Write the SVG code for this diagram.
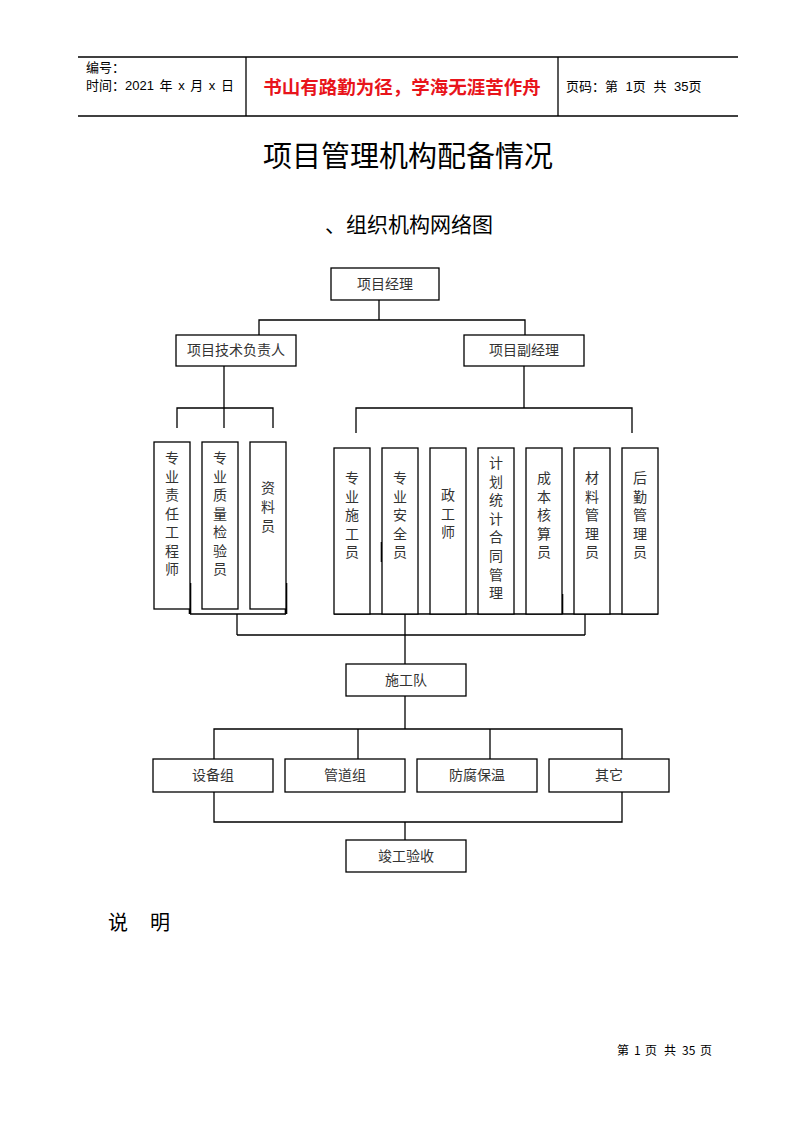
<svg xmlns="http://www.w3.org/2000/svg" width="793" height="1122" viewBox="0 0 793 1122">
<style>
.bx{fill:#fff;stroke:#000;stroke-width:1.3}
.ln{fill:none;stroke:#000;stroke-width:1.3}
.tk{fill:none;stroke:#000;stroke-width:2.6}
.lb{font-family:"Noto Sans CJK SC","Liberation Sans",sans-serif;font-size:14px;fill:#333;text-anchor:middle}
.vt{font-family:"Noto Sans CJK SC","Liberation Sans",sans-serif;font-size:14px;fill:#333;text-anchor:middle}
.hd{font-family:"Liberation Sans","Noto Sans CJK SC",sans-serif;font-size:13px;fill:#000}
.ft{font-family:"Noto Sans CJK SC",sans-serif;font-size:12px;fill:#000}
</style>
<rect width="793" height="1122" fill="#fff"/>
<g id="header">
<line class="ln" x1="78" y1="57" x2="738" y2="57"/>
<line class="ln" x1="78" y1="116" x2="738" y2="116"/>
<line class="ln" x1="246" y1="57" x2="246" y2="116"/>
<line class="ln" x1="558" y1="57" x2="558" y2="116"/>
<text class="hd" x="86" y="72">编号：</text>
<text class="hd" x="86" y="90" style="word-spacing:2px">时间：2021 年 x 月 x 日</text>
<text x="402" y="94" text-anchor="middle" style="font-family:'Noto Sans CJK SC',sans-serif;font-size:18.5px;font-weight:bold;fill:#e8141b">书山有路勤为径，学海无涯苦作舟</text>
<text class="hd" x="566" y="91" style="word-spacing:4px">页码：第 1页 共 35页</text>
</g>
<text x="408" y="167" text-anchor="middle" style="font-family:'Noto Sans CJK SC',sans-serif;font-size:29px;fill:#000">项目管理机构配备情况</text>
<text x="409" y="232" text-anchor="middle" style="font-family:'Noto Sans CJK SC',sans-serif;font-size:21px;fill:#000">、组织机构网络图</text>
<g id="connectors">
<polyline class="ln" points="379,300 379,320"/>
<polyline class="ln" points="259,335 259,320 525,320 525,335"/>
<polyline class="ln" points="224,366 224,408"/>
<polyline class="ln" points="177,428 177,408 273,408 273,428"/>
<line class="ln" x1="224" y1="408" x2="224" y2="428"/>
<polyline class="ln" points="524,366 524,408"/>
<polyline class="ln" points="356,433 356,408 632,408 632,433"/>
<line class="ln" x1="190" y1="614" x2="286" y2="614"/>
<line class="tk" x1="190" y1="583" x2="190" y2="614"/>
<line class="tk" x1="286" y1="583" x2="286" y2="614"/>
<line class="ln" x1="237" y1="614" x2="237" y2="635"/>
<line class="ln" x1="237" y1="635" x2="585" y2="635"/>
<line class="ln" x1="585" y1="614" x2="585" y2="635"/>
<line class="ln" x1="334" y1="614" x2="658" y2="614"/>
<line class="ln" x1="357" y1="594" x2="357" y2="614"/>
<line class="ln" x1="453" y1="594" x2="453" y2="614"/>
<line class="ln" x1="645" y1="594" x2="645" y2="614"/>
<line class="tk" x1="562" y1="594" x2="562" y2="614"/>
<line class="tk" x1="382" y1="542" x2="382" y2="562"/>
<line class="ln" x1="405" y1="614" x2="405" y2="664"/>
<line class="ln" x1="405" y1="696" x2="405" y2="729"/>
<polyline class="ln" points="214,759 214,729 622,729 622,759"/>
<line class="ln" x1="358" y1="729" x2="358" y2="759"/>
<line class="ln" x1="490" y1="729" x2="490" y2="759"/>
<polyline class="ln" points="214,792 214,822 622,822 622,792"/>
<line class="ln" x1="405" y1="822" x2="405" y2="840"/>
</g>
<g id="n-pm"><rect class="bx" x="331" y="268" width="108" height="32"/><text class="lb" x="385" y="289">项目经理</text></g>
<g id="n-tech"><rect class="bx" x="176" y="335" width="120" height="31"/><text class="lb" x="236" y="355">项目技术负责人</text></g>
<g id="n-deputy"><rect class="bx" x="464" y="335" width="120" height="31"/><text class="lb" x="524" y="355">项目副经理</text></g>
<g id="n-l1"><rect class="bx" x="154" y="442" width="36" height="167"/><text class="vt"><tspan x="172" y="463">专</tspan><tspan x="172" dy="18.5">业</tspan><tspan x="172" dy="18.5">责</tspan><tspan x="172" dy="18.5">任</tspan><tspan x="172" dy="18.5">工</tspan><tspan x="172" dy="18.5">程</tspan><tspan x="172" dy="18.5">师</tspan></text></g>
<g id="n-l2"><rect class="bx" x="202" y="442" width="36" height="167"/><text class="vt"><tspan x="220" y="463">专</tspan><tspan x="220" dy="18.5">业</tspan><tspan x="220" dy="18.5">质</tspan><tspan x="220" dy="18.5">量</tspan><tspan x="220" dy="18.5">检</tspan><tspan x="220" dy="18.5">验</tspan><tspan x="220" dy="18.5">员</tspan></text></g>
<g id="n-l3"><rect class="bx" x="250" y="442" width="36" height="167"/><text class="vt"><tspan x="268" y="493">资</tspan><tspan x="268" dy="19">料</tspan><tspan x="268" dy="19">员</tspan></text></g>
<g id="n-r1"><rect class="bx" x="334" y="448" width="36" height="166"/><text class="vt"><tspan x="352" y="483">专</tspan><tspan x="352" dy="18.5">业</tspan><tspan x="352" dy="18.5">施</tspan><tspan x="352" dy="18.5">工</tspan><tspan x="352" dy="18.5">员</tspan></text></g>
<g id="n-r2"><rect class="bx" x="382" y="448" width="36" height="166"/><text class="vt"><tspan x="400" y="483">专</tspan><tspan x="400" dy="18.5">业</tspan><tspan x="400" dy="18.5">安</tspan><tspan x="400" dy="18.5">全</tspan><tspan x="400" dy="18.5">员</tspan></text></g>
<g id="n-r3"><rect class="bx" x="430" y="448" width="36" height="166"/><text class="vt"><tspan x="448" y="500">政</tspan><tspan x="448" dy="18.5">工</tspan><tspan x="448" dy="18.5">师</tspan></text></g>
<g id="n-r4"><rect class="bx" x="478" y="448" width="36" height="166"/><text class="vt"><tspan x="496" y="468">计</tspan><tspan x="496" dy="18.6">划</tspan><tspan x="496" dy="18.6">统</tspan><tspan x="496" dy="18.6">计</tspan><tspan x="496" dy="18.6">合</tspan><tspan x="496" dy="18.6">同</tspan><tspan x="496" dy="18.6">管</tspan><tspan x="496" dy="18.6">理</tspan></text></g>
<g id="n-r5"><rect class="bx" x="526" y="448" width="36" height="166"/><text class="vt"><tspan x="544" y="483">成</tspan><tspan x="544" dy="18.5">本</tspan><tspan x="544" dy="18.5">核</tspan><tspan x="544" dy="18.5">算</tspan><tspan x="544" dy="18.5">员</tspan></text></g>
<g id="n-r6"><rect class="bx" x="574" y="448" width="36" height="166"/><text class="vt"><tspan x="592" y="483">材</tspan><tspan x="592" dy="18.5">料</tspan><tspan x="592" dy="18.5">管</tspan><tspan x="592" dy="18.5">理</tspan><tspan x="592" dy="18.5">员</tspan></text></g>
<g id="n-r7"><rect class="bx" x="622" y="448" width="36" height="166"/><text class="vt"><tspan x="640" y="483">后</tspan><tspan x="640" dy="18.5">勤</tspan><tspan x="640" dy="18.5">管</tspan><tspan x="640" dy="18.5">理</tspan><tspan x="640" dy="18.5">员</tspan></text></g>
<g id="n-team"><rect class="bx" x="346" y="664" width="120" height="32"/><text class="lb" x="406" y="685">施工队</text></g>
<g id="n-g1"><rect class="bx" x="153" y="759" width="120" height="33"/><text class="lb" x="213" y="780">设备组</text></g>
<g id="n-g2"><rect class="bx" x="285" y="759" width="120" height="33"/><text class="lb" x="345" y="780">管道组</text></g>
<g id="n-g3"><rect class="bx" x="417" y="759" width="120" height="33"/><text class="lb" x="477" y="780">防腐保温</text></g>
<g id="n-g4"><rect class="bx" x="549" y="759" width="120" height="33"/><text class="lb" x="609" y="780">其它</text></g>
<g id="n-done"><rect class="bx" x="346" y="840" width="120" height="32"/><text class="lb" x="406" y="861">竣工验收</text></g>
<text x="108" y="930" style="font-family:'Noto Sans CJK SC',sans-serif;font-size:20px;fill:#000">说</text>
<text x="150" y="930" style="font-family:'Noto Sans CJK SC',sans-serif;font-size:20px;fill:#000">明</text>
<g id="footer">
<text class="ft" x="617" y="1055">第</text>
<text class="ft" x="634" y="1055">1</text>
<text class="ft" x="645" y="1055">页</text>
<text class="ft" x="664" y="1055">共</text>
<text class="ft" x="682" y="1055">35</text>
<text class="ft" x="700" y="1055">页</text>
</g>
</svg>
